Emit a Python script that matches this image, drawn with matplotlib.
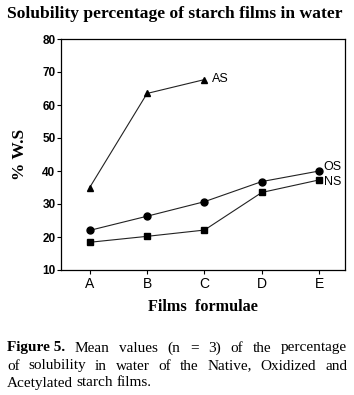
import matplotlib
matplotlib.use('Agg')
import matplotlib.pyplot as plt

# values
films = ['A', 'B', 'C', 'D', 'E']
as_values = [35.0, 63.5, 67.7]
os_values = [22.0, 26.3, 30.7, 36.8, 40.0]
ns_values = [18.4, 20.2, 22.1, 33.5, 37.3]
y_ticks = [10, 20, 30, 40, 50, 60, 70, 80]

caption_lines = [
    ['Figure 5.', 'Mean', 'values', '(n', '=', '3)', 'of', 'the', 'percentage'],
    ['of', 'solubility', 'in', 'water', 'of', 'the', 'Native,', 'Oxidized', 'and'],
    ['Acetylated', 'starch', 'films.'],
]

W, H = 354, 395
fig = plt.figure(figsize=(W / 100, H / 100), dpi=100)
ax = fig.add_axes([61 / W, 1 - 270 / H, 284 / W, 231 / H])

x = list(range(len(films)))
line_kw = dict(color='#222222', lw=0.8, markerfacecolor='black', markeredgecolor='black')
ax.plot(x[:len(as_values)], as_values, marker='^', markersize=5, **line_kw)
ax.plot(x, os_values, marker='o', markersize=5, **line_kw)
ax.plot(x, ns_values, marker='s', markersize=4.5, **line_kw)

sans = 'Liberation Sans'
ax.text(2 + 0.14, as_values[2] + 0.3, 'AS', fontsize=9, family=sans, va='center')
ax.text(4 + 0.08, os_values[4] + 1.3, 'OS', fontsize=9, family=sans, va='center')
ax.text(4 + 0.08, ns_values[4] - 0.6, 'NS', fontsize=9, family=sans, va='center')

ax.set_xlim(-0.5, 4.45)
ax.set_ylim(10, 80)
ax.set_xticks(x)
ax.set_xticklabels(films, family=sans, fontsize=10)
ax.set_yticks(y_ticks)
ax.set_yticklabels([str(v) for v in y_ticks], family=sans, fontsize=8.5, fontweight='bold')
ax.tick_params(direction='out', length=3, width=0.8, pad=1)
ax.tick_params(axis='x', pad=2)
for s in ax.spines.values():
    s.set_linewidth(0.9)

serif = 'Liberation Serif'
ax.set_xlabel('Films  formulae', family=serif, fontsize=11.7, fontweight='bold', labelpad=6)
ax.set_ylabel('% W.S', family=serif, fontsize=12.5, fontweight='bold', labelpad=10)

fig.text(7 / W, 1 - 14 / H, 'Solubility percentage of starch films in water',
         family=serif, fontsize=12.6, fontweight='bold', va='center')

# justified caption
fig.canvas.draw()
renderer = fig.canvas.get_renderer()
left, right = 7 / W, 347 / W
line_y = [348, 366, 383]
for i, words in enumerate(caption_lines):
    y = 1 - line_y[i] / H
    items = []
    for w in words:
        weight = 'bold' if w == 'Figure 5.' else 'normal'
        t = fig.text(0, y, w, family=serif, fontsize=11, fontweight=weight, va='center')
        bb = t.get_window_extent(renderer)
        items.append((t, bb.width / W))
    if i < len(caption_lines) - 1:
        total = sum(wd for _, wd in items)
        gap = (right - left - total) / (len(items) - 1)
    else:
        gap = 3.5 / W
    xpos = left
    for t, wd in items:
        t.set_x(xpos)
        xpos += wd + gap

fig.savefig('out.png', dpi=100)
